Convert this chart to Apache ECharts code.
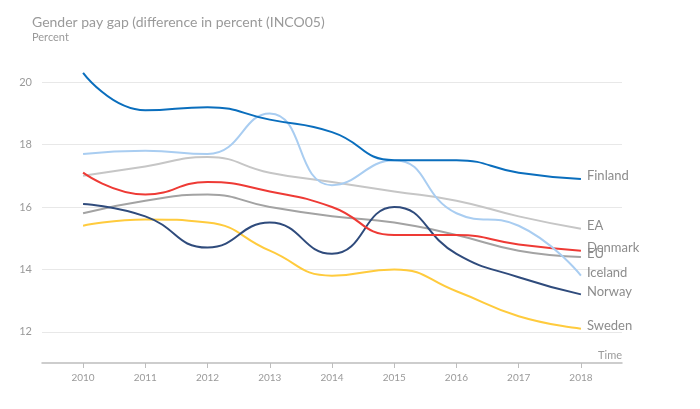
<!DOCTYPE html>
<html>
<head>
<meta charset="utf-8">
<script src="https://cdn.jsdelivr.net/npm/echarts@6/dist/echarts.min.js"></script>
<style>html,body{margin:0;padding:0;background:#fff}#c{width:700px;height:409px}</style>
</head>
<body>
<div id="c"></div>
<script>
const years = [2010, 2011, 2012, 2013, 2014, 2015, 2016, 2017, 2018];
const yTicks = [12, 14, 16, 18, 20];
const finland = [20.3, 19.1, 19.2, 18.8, 18.4, 17.5, 17.5, 17.1, 16.9];
const iceland = [17.7, 17.8, 17.7, 19.0, 16.7, 17.5, 15.8, 15.4, 13.8];
const ea      = [17.0, 17.3, 17.6, 17.1, 16.8, 16.5, 16.2, 15.7, 15.3];
const denmark = [17.1, 16.4, 16.8, 16.5, 16.0, 15.1, 15.1, 14.8, 14.6];
const eu      = [15.8, 16.2, 16.4, 16.0, 15.7, 15.5, 15.1, 14.6, 14.4];
const norway  = [16.1, 15.7, 14.7, 15.5, 14.5, 16.0, 14.5, 13.75, 13.2];
const sweden  = [15.4, 15.6, 15.5, 14.6, 13.8, 14.0, 13.3, 12.5, 12.1];

const seriesDefs = [
  { name: 'EA', data: ea, color: '#c6c6c6' },
  { name: 'EU', data: eu, color: '#a3a3a3' },
  { name: 'Sweden', data: sweden, color: '#ffcb3d' },
  { name: 'Norway', data: norway, color: '#2f4b7c' },
  { name: 'Denmark', data: denmark, color: '#ee3a35' },
  { name: 'Iceland', data: iceland, color: '#a9cdf1' },
  { name: 'Finland', data: finland, color: '#0a6ebd' }
];

const font = 'Lato, "Open Sans", sans-serif';
const chart = echarts.init(document.getElementById('c'));
chart.setOption({
  animation: false,
  textStyle: { fontFamily: font },
  title: {
    text: 'Gender pay gap (difference in percent (INCO05)',
    subtext: 'Percent',
    left: 27, top: 10,
    itemGap: 3,
    textStyle: { color: '#9a9a9a', fontSize: 14, fontWeight: 'normal', fontFamily: font },
    subtextStyle: { color: '#9a9a9a', fontSize: 11, fontFamily: font }
  },
  grid: { left: 42, right: 78, top: 51, bottom: 46, containLabel: false },
  xAxis: {
    type: 'value',
    min: 2009.34, max: 2018.66,
    name: 'Time',
    nameLocation: 'end',
    nameGap: 0,
    nameTextStyle: { color: '#9a9a9a', fontSize: 11, align: 'right', verticalAlign: 'bottom', padding: [0, 0, 2, 0] },
    axisLine: { show: true, lineStyle: { color: '#bdbdbd', width: 1.5 } },
    axisTick: { show: true, customValues: years, length: 5, lineStyle: { color: '#bdbdbd' } },
    axisLabel: { customValues: years, color: '#9a9a9a', fontSize: 10, margin: 10, formatter: v => String(v) },
    splitLine: { show: false }
  },
  yAxis: {
    type: 'value',
    min: 11, max: 21, interval: 1,
    axisLine: { show: false },
    axisTick: { show: false },
    axisLabel: { color: '#9a9a9a', fontSize: 11, margin: 10, formatter: v => (yTicks.indexOf(v) >= 0 ? String(v) : '') },
    splitLine: { show: true, lineStyle: { color: ['rgba(0,0,0,0)', '#e8e8e8'], width: 1 } }
  },
  series: seriesDefs.map(s => ({
    name: s.name,
    type: 'line',
    smooth: 0.5,
    showSymbol: false,
    symbol: 'none',
    data: years.map((y, i) => [y, s.data[i]]),
    lineStyle: { color: s.color, width: 2 },
    itemStyle: { color: s.color },
    endLabel: {
      show: true,
      formatter: '{a}',
      color: '#8c8c8c',
      fontSize: 13,
      distance: 6,
      offset: [0, -3],
      fontFamily: font
    },
    emphasis: { disabled: true }
  }))
});
</script>
</body>
</html>
